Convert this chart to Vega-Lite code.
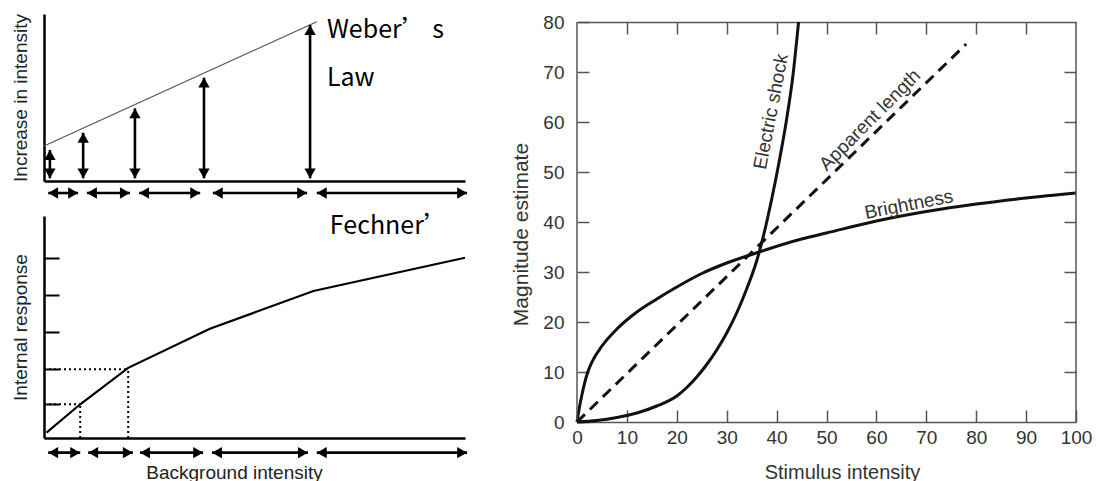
{
  "$schema": "https://vega.github.io/schema/vega-lite/v6.json",
  "background": "white",
  "padding": {"left": 11, "top": 12, "right": 0, "bottom": 0},
  "config": {
    "view": {"stroke": null},
    "font": "Liberation Sans",
    "axis": {"grid": false, "titleFontWeight": "normal", "labelFlush": false}
  },
  "datasets": {
    "weber_line": [{"x": 0, "y": 21}, {"x": 64.8, "y": 95.4}],
    "weber_arrows": [
      {"x": 1.4, "low": 1.6, "high": 18.6},
      {"x": 9.3, "low": 1.6, "high": 28.9},
      {"x": 21.6, "low": 1.6, "high": 43.5},
      {"x": 38.0, "low": 1.6, "high": 61.9},
      {"x": 63.2, "low": 1.6, "high": 93.4}
    ],
    "weber_spans": [
      {"from": 1.0, "to": 8.1, "level": -7.2},
      {"from": 10.2, "to": 20.4, "level": -7.2},
      {"from": 22.6, "to": 37.1, "level": -7.2},
      {"from": 40.1, "to": 62.5, "level": -7.2},
      {"from": 64.8, "to": 100.5, "level": -7.2}
    ],
    "weber_text": [
      {"label": "Weber’ s", "x": 67.2, "y": 85.6},
      {"label": "Law", "x": 67.2, "y": 56.9}
    ],
    "fechner_curve": [
      {"x": 0.6, "y": 2.4}, {"x": 8.6, "y": 15.2}, {"x": 20.0, "y": 31.6},
      {"x": 39.4, "y": 49.2}, {"x": 64.0, "y": 66.2}, {"x": 100, "y": 81.2}
    ],
    "fechner_guides": [
      {"x0": 0, "x1": 8.6, "y0": 15.2, "y1": 15.2},
      {"x0": 8.6, "x1": 8.6, "y0": 0, "y1": 15.2},
      {"x0": 0, "x1": 20.0, "y0": 31, "y1": 31},
      {"x0": 20.0, "x1": 20.0, "y0": 0, "y1": 31}
    ],
    "fechner_spans": [
      {"from": 1.0, "to": 8.6, "level": -6.6},
      {"from": 10.5, "to": 21.1, "level": -6.6},
      {"from": 22.8, "to": 37.8, "level": -6.6},
      {"from": 39.9, "to": 62.7, "level": -6.6},
      {"from": 64.8, "to": 100.5, "level": -6.6}
    ],
    "fechner_text": [{"label": "Fechner’", "x": 67.9, "y": 91.8}],
    "frame": [{"x": 0}, {"x": 100}],
    "brightness": [
      {"x": 0, "y": 0}, {"x": 0.5, "y": 3}, {"x": 1, "y": 5.5}, {"x": 2, "y": 9.5},
      {"x": 3, "y": 12}, {"x": 5, "y": 15.2}, {"x": 8, "y": 18.6}, {"x": 12, "y": 22},
      {"x": 16, "y": 24.6}, {"x": 20, "y": 27}, {"x": 25, "y": 29.7}, {"x": 30, "y": 31.8},
      {"x": 36.5, "y": 34}, {"x": 45, "y": 36.6}, {"x": 50, "y": 37.8}, {"x": 60, "y": 40.2},
      {"x": 70, "y": 42.1}, {"x": 80, "y": 43.6}, {"x": 90, "y": 44.8}, {"x": 100, "y": 45.8}
    ],
    "electric": [
      {"x": 0, "y": 0}, {"x": 4, "y": 0.3}, {"x": 8, "y": 0.9}, {"x": 12, "y": 1.8},
      {"x": 16, "y": 3.2}, {"x": 20, "y": 5.2}, {"x": 22, "y": 6.9}, {"x": 24, "y": 9},
      {"x": 26, "y": 11.5}, {"x": 28, "y": 14.4}, {"x": 30, "y": 17.8}, {"x": 32, "y": 21.8},
      {"x": 34, "y": 26.6}, {"x": 36, "y": 32.2}, {"x": 37.5, "y": 37.8}, {"x": 39, "y": 44.5},
      {"x": 40.5, "y": 52}, {"x": 42, "y": 60.5}, {"x": 43.3, "y": 69.5}, {"x": 44.4, "y": 80}
    ],
    "apparent": [{"x": 0, "y": 0}, {"x": 78, "y": 75.6}],
    "lbl_shock": [{"label": "Electric shock", "x": 38.9, "y": 62.1}],
    "lbl_length": [{"label": "Apparent length", "x": 58.7, "y": 60.4}],
    "lbl_bright": [{"label": "Brightness", "x": 66.5, "y": 43.5}]
  },
  "hconcat": [
    {
      "vconcat": [
        {
          "width": 421,
          "height": 167,
          "layer": [
            {
              "data": {"name": "weber_line"},
              "mark": {"type": "line", "color": "#555", "strokeWidth": 1.2},
              "encoding": {
                "x": {"field": "x", "type": "quantitative", "scale": {"domain": [0, 100], "nice": false},
                  "axis": {"orient": "bottom", "title": null, "labels": false, "ticks": false, "domainColor": "#000", "domainWidth": 2.5}},
                "y": {"field": "y", "type": "quantitative", "scale": {"domain": [0, 100], "nice": false},
                  "axis": {"orient": "left", "title": "Increase in intensity", "labels": false, "ticks": false, "domainColor": "#000", "domainWidth": 2.5,
                    "titleFontSize": 19, "titleColor": "#222", "titleX": -18, "titleBaseline": "alphabetic"}}
              }
            },
            {
              "data": {"name": "weber_arrows"},
              "mark": {"type": "rule", "color": "#000", "strokeWidth": 2.6},
              "encoding": {
                "x": {"field": "x", "type": "quantitative", "axis": null},
                "y": {"field": "low", "type": "quantitative", "axis": null},
                "y2": {"field": "high"}
              }
            },
            {
              "data": {"name": "weber_arrows"},
              "mark": {"type": "point", "shape": "triangle-up", "filled": true, "color": "#000", "opacity": 1, "size": 130, "yOffset": 5},
              "encoding": {
                "x": {"field": "x", "type": "quantitative", "axis": null},
                "y": {"field": "high", "type": "quantitative", "axis": null}
              }
            },
            {
              "data": {"name": "weber_arrows"},
              "mark": {"type": "point", "shape": "triangle-down", "filled": true, "color": "#000", "opacity": 1, "size": 130, "yOffset": -5},
              "encoding": {
                "x": {"field": "x", "type": "quantitative", "axis": null},
                "y": {"field": "low", "type": "quantitative", "axis": null}
              }
            },
            {
              "data": {"name": "weber_spans"},
              "mark": {"type": "rule", "color": "#000", "strokeWidth": 2.6},
              "encoding": {
                "x": {"field": "from", "type": "quantitative", "axis": null},
                "x2": {"field": "to"},
                "y": {"field": "level", "type": "quantitative", "axis": null}
              }
            },
            {
              "data": {"name": "weber_spans"},
              "mark": {"type": "point", "shape": "triangle-left", "filled": true, "color": "#000", "opacity": 1, "size": 130, "xOffset": 5},
              "encoding": {
                "x": {"field": "from", "type": "quantitative", "axis": null},
                "y": {"field": "level", "type": "quantitative", "axis": null}
              }
            },
            {
              "data": {"name": "weber_spans"},
              "mark": {"type": "point", "shape": "triangle-right", "filled": true, "color": "#000", "opacity": 1, "size": 130, "xOffset": -5},
              "encoding": {
                "x": {"field": "to", "type": "quantitative", "axis": null},
                "y": {"field": "level", "type": "quantitative", "axis": null}
              }
            },
            {
              "data": {"name": "weber_text"},
              "mark": {"type": "text", "align": "left", "baseline": "alphabetic", "font": "Noto Sans CJK SC", "fontSize": 25, "color": "#000"},
              "encoding": {
                "x": {"field": "x", "type": "quantitative", "axis": null},
                "y": {"field": "y", "type": "quantitative", "axis": null},
                "text": {"field": "label"}
              }
            }
          ],
          "resolve": {"axis": {"x": "independent", "y": "independent"}}
        },
        {
          "width": 421,
          "height": 222,
          "layer": [
            {
              "data": {"name": "fechner_curve"},
              "mark": {"type": "line", "color": "#000", "strokeWidth": 2.2},
              "encoding": {
                "x": {"field": "x", "type": "quantitative", "scale": {"domain": [0, 100], "nice": false},
                  "axis": {"orient": "bottom", "title": "Background intensity", "labels": false, "ticks": false, "domainColor": "#000", "domainWidth": 2.5,
                    "titleFontSize": 19, "titleColor": "#222", "titleX": 190, "titleY": 40, "titleBaseline": "alphabetic", "titleAlign": "center"}},
                "y": {"field": "y", "type": "quantitative", "scale": {"domain": [0, 100], "nice": false},
                  "axis": {"orient": "left", "title": "Internal response", "labels": false, "ticks": true, "values": [15.2, 31, 47.7, 64.3, 81.2],
                    "tickSize": -15, "tickColor": "#000", "tickWidth": 2, "domainColor": "#000", "domainWidth": 2.5,
                    "titleFontSize": 19, "titleColor": "#222", "titleX": -18, "titleBaseline": "alphabetic"}}
              }
            },
            {
              "data": {"name": "fechner_guides"},
              "mark": {"type": "rule", "color": "#000", "strokeWidth": 2, "strokeDash": [2, 3]},
              "encoding": {
                "x": {"field": "x0", "type": "quantitative", "axis": null},
                "x2": {"field": "x1"},
                "y": {"field": "y0", "type": "quantitative", "axis": null},
                "y2": {"field": "y1"}
              }
            },
            {
              "data": {"name": "fechner_spans"},
              "mark": {"type": "rule", "color": "#000", "strokeWidth": 2.6},
              "encoding": {
                "x": {"field": "from", "type": "quantitative", "axis": null},
                "x2": {"field": "to"},
                "y": {"field": "level", "type": "quantitative", "axis": null}
              }
            },
            {
              "data": {"name": "fechner_spans"},
              "mark": {"type": "point", "shape": "triangle-left", "filled": true, "color": "#000", "opacity": 1, "size": 130, "xOffset": 5},
              "encoding": {
                "x": {"field": "from", "type": "quantitative", "axis": null},
                "y": {"field": "level", "type": "quantitative", "axis": null}
              }
            },
            {
              "data": {"name": "fechner_spans"},
              "mark": {"type": "point", "shape": "triangle-right", "filled": true, "color": "#000", "opacity": 1, "size": 130, "xOffset": -5},
              "encoding": {
                "x": {"field": "to", "type": "quantitative", "axis": null},
                "y": {"field": "level", "type": "quantitative", "axis": null}
              }
            },
            {
              "data": {"name": "fechner_text"},
              "mark": {"type": "text", "align": "left", "baseline": "alphabetic", "font": "Noto Sans CJK SC", "fontSize": 25, "color": "#000"},
              "encoding": {
                "x": {"field": "x", "type": "quantitative", "axis": null},
                "y": {"field": "y", "type": "quantitative", "axis": null},
                "text": {"field": "label"}
              }
            }
          ],
          "resolve": {"axis": {"x": "independent", "y": "independent"}}
        }
      ],
      "spacing": 35,
      "bounds": "flush"
    },
    {
      "width": 499,
      "height": 408,
      "layer": [
        {
          "data": {"name": "brightness"},
          "mark": {"type": "line", "color": "#111", "strokeWidth": 3, "interpolate": "monotone"},
          "encoding": {
            "x": {"field": "x", "type": "quantitative", "scale": {"domain": [0, 100], "nice": false},
              "axis": {"orient": "bottom", "values": [0, 10, 20, 30, 40, 50, 60, 70, 80, 90, 100], "tickSize": -12, "tickColor": "#555", "tickWidth": 1.5,
                "domainColor": "#555", "domainWidth": 1.5, "labelFontSize": 19, "labelColor": "#333", "labelPadding": 18,
                "title": "Stimulus intensity", "titleFontSize": 20, "titleColor": "#333", "titleX": 265, "titleY": 56, "titleBaseline": "alphabetic", "titleAlign": "center"}},
            "y": {"field": "y", "type": "quantitative", "scale": {"domain": [0, 81.6], "nice": false},
              "axis": {"orient": "left", "values": [0, 10, 20, 30, 40, 50, 60, 70, 80], "tickSize": -12, "tickColor": "#555", "tickWidth": 1.5,
                "domain": false, "labelFontSize": 19, "labelColor": "#333", "labelPadding": 25,
                "title": "Magnitude estimate", "titleFontSize": 21, "titleColor": "#333", "titleX": -50, "titleY": 220, "titleBaseline": "alphabetic"}}
          }
        },
        {
          "data": {"name": "electric"},
          "mark": {"type": "line", "color": "#111", "strokeWidth": 3, "interpolate": "monotone"},
          "encoding": {
            "x": {"field": "x", "type": "quantitative",
              "axis": {"orient": "top", "offset": -8, "labels": false, "title": null, "values": [10, 20, 30, 40, 50, 60, 70, 80, 90], "tickSize": -12, "tickColor": "#555", "tickWidth": 1.5,
                "domainColor": "#555", "domainWidth": 1.5}},
            "y": {"field": "y", "type": "quantitative",
              "axis": {"orient": "right", "labels": false, "title": null, "values": [10, 20, 30, 40, 50, 60, 70], "tickSize": -12, "tickColor": "#555", "tickWidth": 1.5,
                "domain": false}}
          }
        },
        {
          "data": {"name": "frame"},
          "mark": {"type": "rule", "color": "#555", "strokeWidth": 1.5},
          "encoding": {
            "x": {"field": "x", "type": "quantitative", "axis": null},
            "y": {"datum": 0, "type": "quantitative", "axis": null},
            "y2": {"datum": 80}
          }
        },
        {
          "data": {"name": "apparent"},
          "mark": {"type": "line", "color": "#111", "strokeWidth": 3, "strokeDash": [11, 7]},
          "encoding": {
            "x": {"field": "x", "type": "quantitative", "axis": null},
            "y": {"field": "y", "type": "quantitative", "axis": null}
          }
        },
        {
          "data": {"name": "lbl_shock"},
          "mark": {"type": "text", "angle": -79, "align": "center", "baseline": "middle", "fontSize": 19, "color": "#333"},
          "encoding": {
            "x": {"field": "x", "type": "quantitative", "axis": null},
            "y": {"field": "y", "type": "quantitative", "axis": null},
            "text": {"field": "label"}
          }
        },
        {
          "data": {"name": "lbl_length"},
          "mark": {"type": "text", "angle": -45, "align": "center", "baseline": "middle", "fontSize": 19, "color": "#333"},
          "encoding": {
            "x": {"field": "x", "type": "quantitative", "axis": null},
            "y": {"field": "y", "type": "quantitative", "axis": null},
            "text": {"field": "label"}
          }
        },
        {
          "data": {"name": "lbl_bright"},
          "mark": {"type": "text", "angle": -11, "align": "center", "baseline": "middle", "fontSize": 19, "color": "#333"},
          "encoding": {
            "x": {"field": "x", "type": "quantitative", "axis": null},
            "y": {"field": "y", "type": "quantitative", "axis": null},
            "text": {"field": "label"}
          }
        }
      ],
      "resolve": {"axis": {"x": "independent", "y": "independent"}}
    }
  ],
  "spacing": 40
}
